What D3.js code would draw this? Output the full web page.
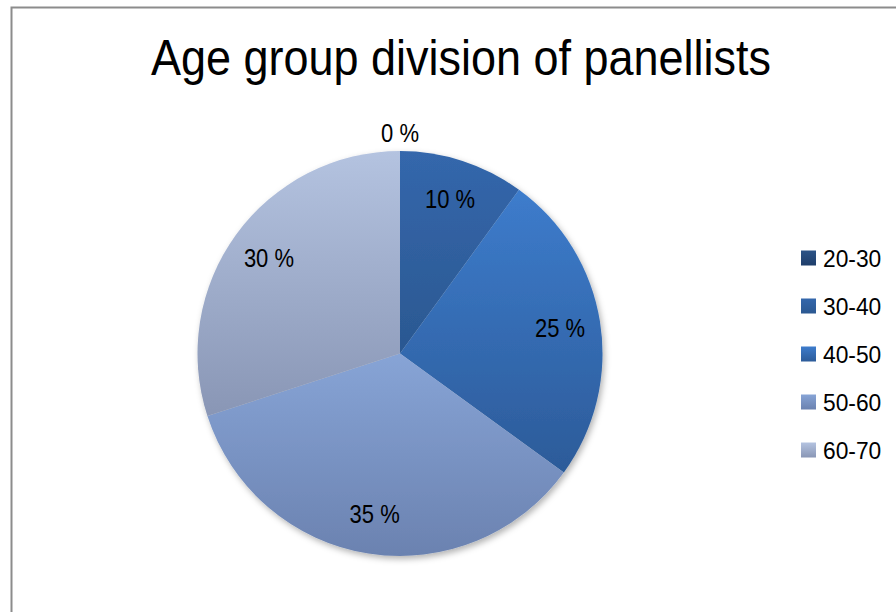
<!DOCTYPE html>
<html>
<head>
<meta charset="utf-8">
<script src="https://cdn.jsdelivr.net/npm/d3@7"></script>
<style>
  html, body { margin: 0; padding: 0; background: #fff; }
  svg { display: block; font-family: "Liberation Sans", Arial, sans-serif; }
</style>
</head>
<body>
<svg id="chart" width="896" height="612"></svg>
<script>
// Age groups and the share of panellists in each (percent)
const categories = ["20-30", "30-40", "40-50", "50-60", "60-70"];
const values = [0, 10, 25, 35, 30];
// Gradient stops per group: lighter at the top, darker at the bottom
const colorsTop = ["#2c5387", "#3467ac", "#3d7ccc", "#87a4d6", "#b4c3e0"];
const colorsBottom = ["#1f3e6a", "#2b5891", "#2c5b99", "#6b82b0", "#8996b5"];
const titleText = "Age group division of panellists";

const width = 896, height = 612;
const svg = d3.select("#chart");
const defs = svg.append("defs");

categories.forEach((c, i) => {
  const g = defs.append("linearGradient")
    .attr("id", "grad" + i)
    .attr("x1", 0).attr("y1", 0).attr("x2", 0).attr("y2", 1);
  g.append("stop").attr("offset", "0%").attr("stop-color", colorsTop[i]);
  g.append("stop").attr("offset", "100%").attr("stop-color", colorsBottom[i]);
});

const shadow = defs.append("filter").attr("id", "pieShadow")
  .attr("x", "-10%").attr("y", "-10%").attr("width", "125%").attr("height", "125%");
shadow.append("feDropShadow")
  .attr("dx", 2).attr("dy", 3).attr("stdDeviation", 3)
  .attr("flood-color", "#000").attr("flood-opacity", 0.3);

// Chart frame
svg.append("rect")
  .attr("x", 11.5).attr("y", 7.5)
  .attr("width", 900).attr("height", 640)
  .attr("fill", "#fff").attr("stroke", "#8c8c8c").attr("stroke-width", 2);

// Title (slightly condensed)
svg.append("text")
  .attr("transform", "translate(461,75) scale(0.9,1)")
  .attr("text-anchor", "middle")
  .attr("font-size", 50)
  .attr("fill", "#000")
  .text(titleText);

// Pie
const cx = 400, cy = 353.5, R = 202.5;
const total = d3.sum(values);
const pie = d3.pie().sort(null).value(d => d)(values);
const arc = d3.arc().innerRadius(0).outerRadius(R);
const labelArc = d3.arc().innerRadius(R * 0.8).outerRadius(R * 0.8);
const outerLabelArc = d3.arc().innerRadius(R + 18).outerRadius(R + 18);

const pieG = svg.append("g").attr("transform", `translate(${cx},${cy})`);
pieG.append("g").attr("filter", "url(#pieShadow)")
  .selectAll("path")
  .data(pie)
  .join("path")
  .attr("d", arc)
  .attr("fill", (d, i) => `url(#grad${i})`);

pieG.selectAll("text.lbl")
  .data(pie)
  .join("text")
  .attr("class", "lbl")
  .attr("transform", d => {
    const p = (d.value === 0 ? outerLabelArc : labelArc).centroid(d);
    return `translate(${p[0]},${p[1]}) scale(0.88,1)`;
  })
  .attr("text-anchor", "middle")
  .attr("dy", "0.36em")
  .attr("font-size", 25)
  .attr("fill", "#000")
  .text(d => Math.round(d.value / total * 100) + " %");

// Legend
const legendY = d3.scalePoint().domain(categories).range([258, 450]);
const legend = svg.append("g");
const item = legend.selectAll("g")
  .data(categories)
  .join("g")
  .attr("transform", d => `translate(801,${legendY(d)})`);
item.append("rect")
  .attr("x", 0).attr("y", -7.5)
  .attr("width", 15).attr("height", 15)
  .attr("fill", (d, i) => `url(#grad${i})`);
item.append("text")
  .attr("transform", "translate(22,0) scale(0.95,1)")
  .attr("dy", "0.36em")
  .attr("font-size", 24)
  .attr("fill", "#000")
  .text(d => d);
</script>
</body>
</html>
